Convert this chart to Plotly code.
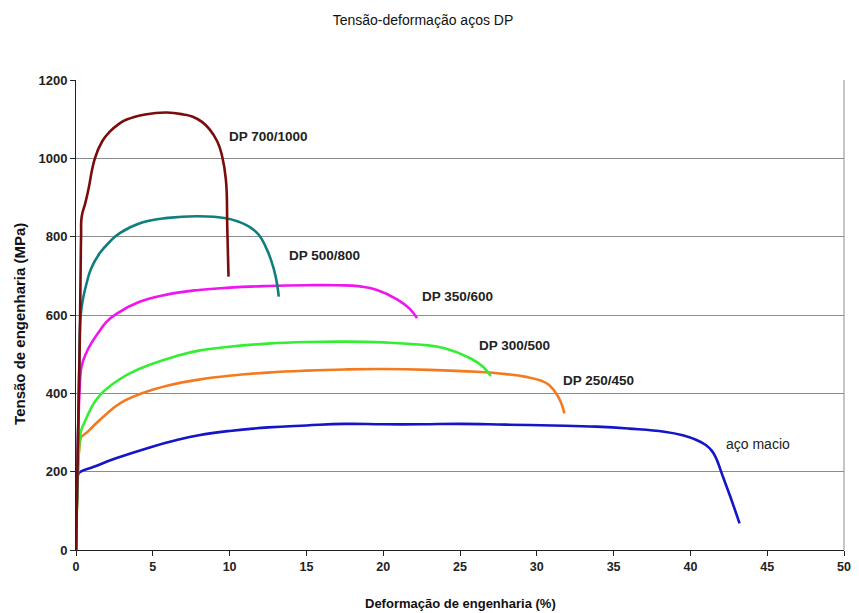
import plotly.graph_objects as go

# ---- data (strain %, stress MPa) ----
dp700_x = [0, 0.25, 0.33, 0.37, 0.6, 0.8, 1.23, 1.7, 2.2, 2.8, 3.3, 4.5, 5.9, 7.0, 7.6, 8.2, 8.7, 9.2, 9.5, 9.76, 9.85, 9.93]
dp700_y = [0, 540, 800, 851, 885, 919, 1000, 1043, 1068, 1088, 1099, 1112, 1117, 1112, 1106, 1093, 1074, 1043, 1008, 945, 820, 698]

dp500_x = [0, 0.2, 0.3, 0.45, 0.69, 1.0, 1.55, 2.2, 2.85, 4.3, 6.0, 8.0, 9.76, 10.6, 11.3, 11.9, 12.35, 12.7, 13.0, 13.2]
dp500_y = [0, 450, 596, 640, 681, 720, 758, 787, 809, 836, 848, 852, 847, 838, 825, 805, 774, 740, 698, 647]

dp350_x = [0, 0.25, 0.37, 0.69, 1.0, 1.55, 2.0, 2.63, 4.1, 5.9, 8.0, 10, 12.5, 15, 17, 18.5, 19.6, 20.9, 21.7, 22.2]
dp350_y = [0, 420, 470, 505, 528, 560, 583, 603, 633, 652, 664, 670, 674, 676, 676, 673, 664, 640, 617, 592]

dp300_x = [0, 0.2, 0.3, 0.6, 1.12, 1.55, 2.0, 2.84, 3.6, 4.8, 6.5, 8.0, 10, 12.5, 15, 17.5, 20, 22.5, 24.0, 25.7, 26.5, 27.0]
dp300_y = [0, 260, 300, 330, 372, 395, 412, 436, 453, 473, 495, 509, 519, 527, 531, 532, 530, 524, 515, 489, 468, 444]

dp250_x = [0, 0.3, 0.37, 0.7, 1.12, 2.0, 2.84, 4.3, 6.0, 8.0, 10, 12.5, 15, 17.5, 20, 23, 26.1, 28, 29.3, 30.3, 30.8, 31.4, 31.8]
dp250_y = [0, 285, 290, 300, 316, 348, 374, 400, 420, 435, 445, 453, 458, 461, 462, 460, 455, 449, 442, 432, 421, 391, 349]

macio_x = [0, 0.1, 0.15, 0.3, 1.12, 2.6, 4.8, 6.5, 8.0, 10, 12.5, 15, 17.5, 20, 22.5, 25, 28, 31, 33.9, 36, 38.3, 39.5, 40.4, 41.0, 41.4, 41.7, 42.0, 42.3, 42.6, 43.2]
macio_y = [0, 170, 194, 200, 212, 234, 262, 280, 293, 304, 313, 318, 322, 321, 321, 322, 320, 318, 315, 310, 302, 293, 281, 268, 253, 232, 200, 168, 136, 68]

series_names = ["DP 700/1000", "DP 500/800", "DP 350/600", "DP 300/500", "DP 250/450", "aço macio"]
series_x = [dp700_x, dp500_x, dp350_x, dp300_x, dp250_x, macio_x]
series_y = [dp700_y, dp500_y, dp350_y, dp300_y, dp250_y, macio_y]
colors = ["#7A0C0C", "#0F7E7E", "#F014F0", "#33EE33", "#F47A20", "#1414C8"]

label_x = [9.81, 13.74, 22.4, 26.1, 31.6, 42.2]
label_y = [1055, 751, 646, 523, 434, 270]
label_bold = [True, True, True, True, True, False]

x_ticks = [0, 5, 10, 15, 20, 25, 30, 35, 40, 45, 50]
y_ticks = [0, 200, 400, 600, 800, 1000, 1200]

FONT = "Liberation Sans, Arial, sans-serif"

fig = go.Figure()
# draw in reverse so dark red is on top at the origin
for name, xs, ys, c in reversed(list(zip(series_names, series_x, series_y, colors))):
    fig.add_trace(go.Scatter(x=xs, y=ys, mode="lines", name=name,
                             line=dict(color=c, width=2.6, shape="spline", smoothing=1.3)))

for name, lx, ly, b in zip(series_names, label_x, label_y, label_bold):
    fig.add_annotation(x=lx, y=ly, text=name, showarrow=False, xanchor="left", yanchor="middle",
                       font=dict(family=FONT, size=13.5 if b else 14, color="#222",
                                 weight="bold" if b else "normal"))

fig.update_layout(
    width=859, height=613,
    margin=dict(l=76, r=8, t=80, b=63),
    paper_bgcolor="white", plot_bgcolor="white",
    showlegend=False,
    title=dict(text="Tensão-deformação aços DP", x=423 / 859, xref="container", xanchor="center",
               y=1 - 20 / 613, yref="container", yanchor="middle",
               font=dict(family=FONT, size=14, color="#111")),
)
fig.update_xaxes(range=[0, 50], tickvals=x_ticks, showgrid=False, zeroline=False,
                 showline=True, linecolor="#222", linewidth=1,
                 ticks="outside", ticklen=5, tickcolor="#222",
                 tickfont=dict(family=FONT, size=12.5, color="#222", weight="bold"))
fig.update_yaxes(range=[0, 1200], tickvals=y_ticks, showgrid=True, gridcolor="#8c8c8c", gridwidth=1,
                 zeroline=False, showline=True, linecolor="#222", linewidth=1,
                 ticks="outside", ticklen=5, tickcolor="#222",
                 tickfont=dict(family=FONT, size=13, color="#222", weight="bold"))

# axis titles
fig.add_annotation(text="Deformação de engenharia (%)", xref="paper", yref="paper", x=0.5, y=-53 / 470,
                   showarrow=False, xanchor="center", yanchor="middle",
                   font=dict(family=FONT, size=13, color="#111", weight="bold"))
fig.add_annotation(text="Tensão de engenharia (MPa)", xref="paper", yref="paper", x=-57 / 775, y=0.48,
                   showarrow=False, textangle=-90, xanchor="center", yanchor="middle",
                   font=dict(family=FONT, size=15, color="#111", weight="bold"))

# right frame line
fig.add_shape(type="line", xref="paper", yref="paper", x0=1, x1=1, y0=0, y1=1,
              line=dict(color="#8c8c8c", width=1))

fig.write_html("out.html")
